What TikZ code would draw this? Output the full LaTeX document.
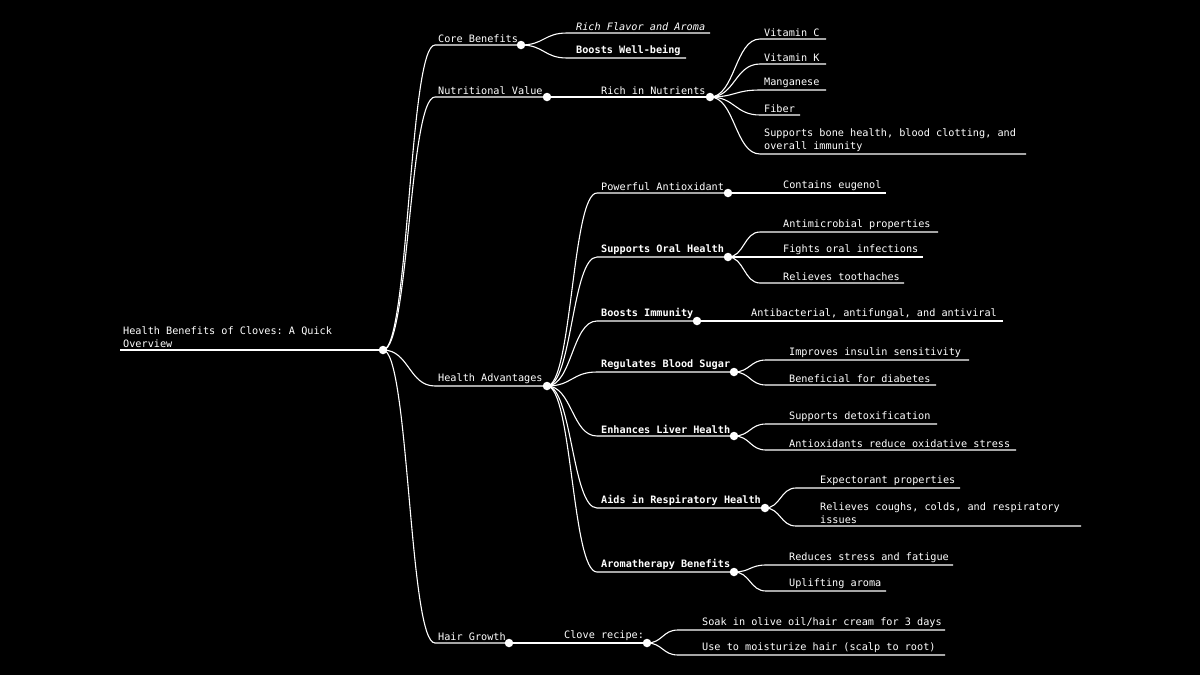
\documentclass[tikz,border=0pt]{standalone}
\usepackage{fontspec}
\setmonofont{DejaVu Sans Mono}
\usetikzlibrary{calc}
\tikzset{
  edge/.style={draw=white, line width=1.1pt},
  dot/.style={circle, fill=white, inner sep=0pt, minimum size=8.5pt},
  lbl/.style={text=white, font=\fontsize{10.2}{12.8}\selectfont\ttfamily, inner sep=0pt, anchor=south west, align=left},
}
\newcommand\mmitem[7]{% parent, name, xs, xe, y, tx, text
  \coordinate (#2s) at (#3,#5); \coordinate (#2e) at (#4,#5); \coordinate (#2d) at (#4,#5);
  \node[lbl] (#2) at (#6,#5-2.5) {#7};
  \draw[edge] let \p1=(#1), \p2=(#2s) in (#1) .. controls ({0.5*\x1+0.5*\x2},\y1) and ({0.5*\x1+0.5*\x2},\y2) .. (#2s) -- (#2e);
}
\newcommand\mmdot[1]{\node[dot] (#1dot) at (#1d) {};}
\begin{document}
\begin{tikzpicture}[x=1pt,y=-1pt]
\fill[black] (0,0) rectangle (1200,675);
\useasboundingbox (0,0) rectangle (1200,675);
% root
\coordinate (roots) at (120,350); \coordinate (rootd) at (383,350);
\node[lbl] (root) at (123,347.5) {Health Benefits of Cloves: A Quick\\Overview};
\draw[edge] (roots) -- (rootd);
% core
\mmitem{rootd}{core}{435}{521}{45}{438}{Core Benefits}
\mmitem{cored}{flav}{567}{710}{33}{576}{\itshape Rich Flavor and Aroma}
\mmitem{cored}{well}{567}{686}{58}{576}{\bfseries Boosts Well-being}
% nutrition
\mmitem{rootd}{nut}{435}{547}{97}{438}{Nutritional Value}
\mmitem{nutd}{rich}{590}{710}{97}{601}{Rich in Nutrients}
\mmitem{richd}{vc}{760}{826}{39}{764}{Vitamin C}
\mmitem{richd}{vk}{760}{826}{64}{764}{Vitamin K}
\mmitem{richd}{mn}{760}{826}{90}{764}{Manganese}
\mmitem{richd}{fib}{760}{800}{115}{764}{Fiber}
\mmitem{richd}{bone}{760}{1026}{154}{764}{Supports bone health, blood clotting, and\\overall immunity}
% health advantages
\mmitem{rootd}{ha}{435}{547}{386}{438}{Health Advantages}
\mmitem{had}{pa}{597}{728}{193}{601}{Powerful Antioxidant}
\mmitem{pad}{eug}{770}{886}{193}{783}{Contains eugenol}
\mmitem{had}{oral}{597}{728}{257}{601}{\bfseries Supports Oral Health}
\mmitem{orald}{am}{760}{938}{232}{783}{Antimicrobial properties}
\mmitem{orald}{foi}{760}{923}{257}{783}{Fights oral infections}
\mmitem{orald}{rt}{760}{904}{283}{783}{Relieves toothaches}
\mmitem{had}{imm}{597}{697}{321}{601}{\bfseries Boosts Immunity}
\mmitem{immd}{anti}{740}{1003}{321}{751}{Antibacterial, antifungal, and antiviral}
\mmitem{had}{bs}{597}{734}{372}{601}{\bfseries Regulates Blood Sugar}
\mmitem{bsd}{ins}{766}{969}{360}{789}{Improves insulin sensitivity}
\mmitem{bsd}{dia}{766}{936}{385}{789}{Beneficial for diabetes}
\mmitem{had}{liv}{597}{734}{436}{601}{\bfseries Enhances Liver Health}
\mmitem{livd}{det}{766}{937}{424}{789}{Supports detoxification}
\mmitem{livd}{ox}{766}{1016}{450}{789}{Antioxidants reduce oxidative stress}
\mmitem{had}{resp}{597}{765}{508}{601}{\bfseries Aids in Respiratory Health}
\mmitem{respd}{exp}{796}{960}{488}{820}{Expectorant properties}
\mmitem{respd}{cough}{796}{1081}{526}{820}{Relieves coughs, colds, and respiratory\\issues}
\mmitem{had}{aro}{597}{734}{572}{601}{\bfseries Aromatherapy Benefits}
\mmitem{arod}{str}{766}{953}{565}{789}{Reduces stress and fatigue}
\mmitem{arod}{upl}{766}{886}{591}{789}{Uplifting aroma}
% hair
\mmitem{rootd}{hair}{435}{509}{643}{438}{Hair Growth}
\mmitem{haird}{clove}{555}{647}{643}{564}{Clove recipe:}
\mmitem{cloved}{soak}{678}{945}{630}{702}{Soak in olive oil/hair cream for 3 days}
\mmitem{cloved}{use}{678}{945}{655}{702}{Use to moisturize hair (scalp to root)}
% dots
\mmdot{root}\mmdot{core}\mmdot{nut}\mmdot{rich}
\mmdot{ha}\mmdot{pa}\mmdot{oral}\mmdot{imm}\mmdot{bs}\mmdot{liv}\mmdot{resp}\mmdot{aro}
\mmdot{hair}\mmdot{clove}
\end{tikzpicture}
\end{document}
